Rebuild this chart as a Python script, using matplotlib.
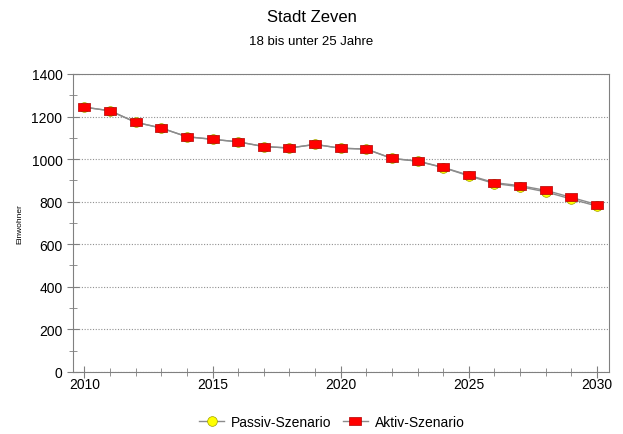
import matplotlib.pyplot as plt
from matplotlib.ticker import MultipleLocator

plt.rcParams['font.family'] = ['Liberation Sans', 'DejaVu Sans']

# Daten
jahre = list(range(2010, 2031))
passiv = [1244, 1227, 1173, 1146, 1105, 1093, 1081, 1059, 1052, 1069, 1051, 1047,
          1003, 990, 960, 921, 885, 870, 846, 812, 779]
aktiv = [1244, 1227, 1173, 1146, 1105, 1093, 1081, 1059, 1052, 1069, 1051, 1047,
         1003, 991, 961, 924, 889, 875, 853, 820, 786]

fig = plt.figure(figsize=(6.23, 4.35), dpi=100)
ax = fig.add_axes([0.117, 0.143, 0.8605, 0.6846])

rect = [(-1, -0.72), (1, -0.72), (1, 0.72), (-1, 0.72), (-1, -0.72)]

ax.plot(jahre, passiv, color='#8c8c8c', lw=1, marker='o', ms=7,
        mfc='#ffff00', mec='#a0a000', mew=0.5, label='Passiv-Szenario', zorder=3)
ax.plot(jahre, aktiv, color='#8c8c8c', lw=1, marker=rect, ms=8.5,
        mfc='#ff0000', mec='#b00000', mew=0.5, label='Aktiv-Szenario', zorder=4)

ax.set_xlim(2009.55, 2030.47)
ax.set_ylim(0, 1400)
ax.xaxis.set_major_locator(MultipleLocator(5))
ax.xaxis.set_minor_locator(MultipleLocator(1))
ax.yaxis.set_major_locator(MultipleLocator(200))
ax.yaxis.set_minor_locator(MultipleLocator(100))
ax.tick_params(which='both', direction='inout', color='#808080', labelsize=10)
ax.tick_params(which='major', length=8)
ax.tick_params(which='minor', length=6)
ax.tick_params(axis='x', pad=0)
ax.grid(axis='y', which='major', linestyle=(0, (1, 1.5)), color='#909090', lw=0.8)
for s in ax.spines.values():
    s.set_color('#808080')

ax.set_ylabel('Einwohner', fontsize=6, labelpad=6)

fig.text(0.5, 0.959, 'Stadt Zeven', ha='center', va='center', fontsize=12)
fig.text(0.5, 0.903, '18 bis unter 25 Jahre', ha='center', va='center', fontsize=9.5)

fig.legend(loc='center', bbox_to_anchor=(0.533, 0.028), ncol=2, frameon=False,
           fontsize=10, handlelength=1.8, columnspacing=0.8, handletextpad=0.5)

fig.savefig('out.png', dpi=100)
